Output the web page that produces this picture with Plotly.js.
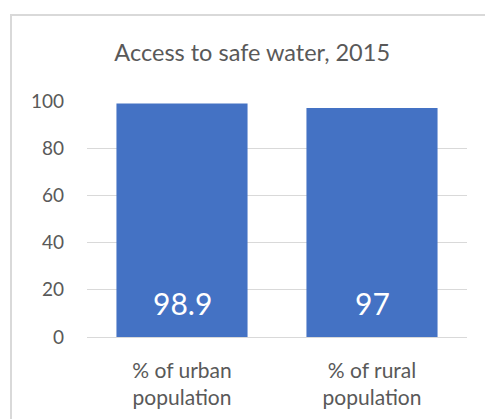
<!DOCTYPE html>
<html><head><meta charset="utf-8">
<script src="https://cdn.plot.ly/plotly-3.0.1.min.js"></script>
<style>
html,body{margin:0;padding:0;background:#fff;}
#wrap{position:relative;width:485px;height:419px;overflow:hidden;}
#chart{position:absolute;left:0;top:0;width:485px;height:419px;}
#frame{position:absolute;left:10px;top:14px;width:480px;height:420px;border:2px solid #d9d9d9;box-sizing:border-box;pointer-events:none;}
</style></head>
<body><div id="wrap"><div id="chart"></div><div id="frame"></div></div>
<script>
const categories = ["% of urban<br>population", "% of rural<br>population"];
const values = [98.9, 97];
const labels = ["98.9", "97"];
const yTicks = [0, 20, 40, 60, 80, 100];
const titleText = "Access to safe water, 2015";

const font = "Lato, 'Open Sans', sans-serif";
const annotations = categories.map((c, i) => ({
  x: c, y: 0, xref: "x", yref: "y", text: labels[i], showarrow: false,
  yanchor: "bottom", yshift: 14,
  font: {family: font, size: 30, color: "#ffffff"}
}));
Plotly.newPlot("chart", [{
  type: "bar",
  x: categories,
  y: values,
  marker: {color: "#4472c4"},
  hoverinfo: "none"
}], {
  width: 485, height: 419,
  margin: {l: 87, r: 18, t: 101, b: 82},
  bargap: 0.31,
  paper_bgcolor: "rgba(0,0,0,0)",
  plot_bgcolor: "#ffffff",
  annotations: annotations,
  title: {text: titleText, font: {family: font, size: 23.5, color: "#595959"}, x: 0.52, xanchor: "center", y: 0.875, yanchor: "middle"},
  xaxis: {tickfont: {family: font, size: 21, color: "#595959"}, showgrid: false, zeroline: false, showline: false, ticks: "", ticklabelstandoff: 19},
  yaxis: {range: [0, 100], tickvals: yTicks, ticktext: yTicks.map(String), tickfont: {family: font, size: 19, color: "#595959"},
          showgrid: true, gridcolor: "#d9d9d9", gridwidth: 1, zeroline: true, zerolinecolor: "#d9d9d9", ticks: "", ticklabelstandoff: 22, showline: false},
  showlegend: false
}, {staticPlot: true, displayModeBar: false});
</script></body></html>
